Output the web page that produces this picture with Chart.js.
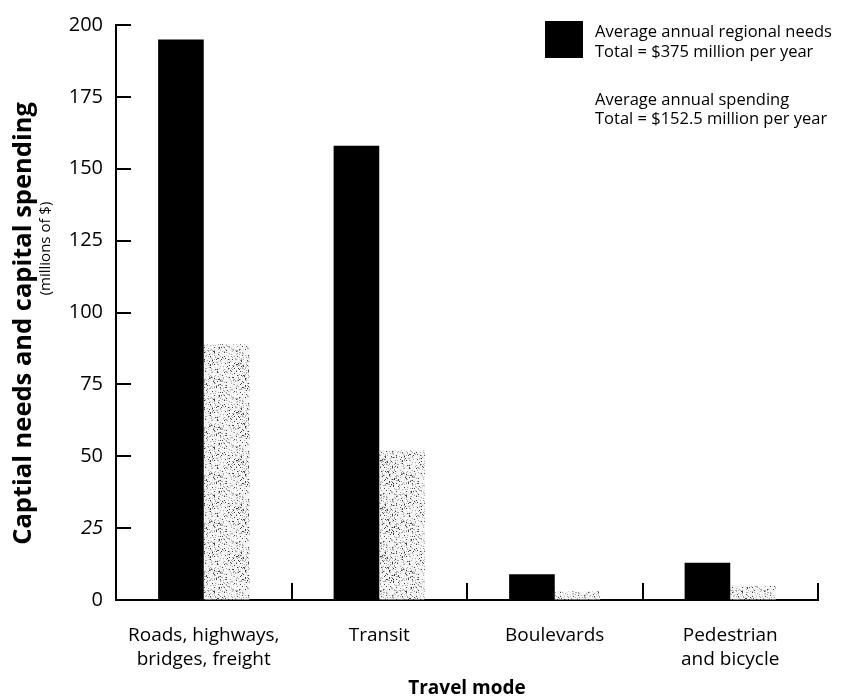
<!DOCTYPE html>
<html>
<head>
<meta charset="utf-8">
<script src="https://cdn.jsdelivr.net/npm/chart.js@4.4.1/dist/chart.umd.min.js"></script>
<style>
  html, body { margin: 0; padding: 0; background: #fff; }
  #wrap { width: 845px; height: 699px; }
</style>
</head>
<body>
<div id="wrap"><canvas id="chart" width="845" height="699"></canvas></div>
<script>
const categories = [['Roads, highways,', 'bridges, freight'], 'Transit', 'Boulevards', ['Pedestrian', 'and bicycle']];
const needs = [195, 158, 9, 13];
const spending = [89, 52, 3, 5];
const yTicks = [0, 25, 50, 75, 100, 125, 150, 175, 200];
const needsLabel = ['Average annual regional needs', 'Total = $375 million per year'];
const spendingLabel = ['Average annual spending', 'Total = $152.5 million per year'];
const yTitle = 'Captial needs and capital spending';
const ySubtitle = '(millions of $)';
const xTitle = 'Travel mode';

const FONT = "'Open Sans', 'Noto Sans', sans-serif";

// stippled grey fill for the spending bars
function makeStipple() {
    const c = document.createElement('canvas');
    c.width = 48;
    c.height = 48;
    const g = c.getContext('2d');
    g.fillStyle = '#f2f2f2';
    g.fillRect(0, 0, 48, 48);
    for (let i = 0; i < 48; i++) {
        for (let j = 0; j < 48; j++) {
            const h = ((i * 73856093) ^ (j * 19349663) ^ (i * j * 83492791)) >>> 0;
            const r = h % 100;
            if (r < 6) { g.fillStyle = '#444'; g.fillRect(i, j, 1, 1); }
            else if (r < 20) { g.fillStyle = '#aaa'; g.fillRect(i, j, 1, 1); }
            else if (r < 40) { g.fillStyle = '#fff'; g.fillRect(i, j, 1, 1); }
        }
    }
    return g.createPattern(c, 'repeat');
}

const decorations = {
    id: 'decorations',
    afterDraw(chart) {
        const { ctx, chartArea, scales: { x, y } } = chart;
        ctx.save();
        ctx.strokeStyle = '#000';
        ctx.lineWidth = 2;

        // y ticks point into the plot
        yTicks.forEach(v => {
            if (v === 0) return;
            const py = Math.round(y.getPixelForValue(v));
            ctx.beginPath();
            ctx.moveTo(chartArea.left, py);
            ctx.lineTo(chartArea.left + 15, py);
            ctx.stroke();
        });

        // category separators on the x axis
        for (let i = 1; i <= categories.length; i++) {
            const px = Math.round(x.getPixelForValue(i - 0.5));
            ctx.beginPath();
            ctx.moveTo(px, chartArea.bottom);
            ctx.lineTo(px, chartArea.bottom - 17);
            ctx.stroke();
        }

        // y axis title + subtitle
        const midY = (chartArea.top + chartArea.bottom) / 2;
        ctx.fillStyle = '#000';
        ctx.textAlign = 'center';
        ctx.textBaseline = 'middle';
        ctx.save();
        ctx.translate(24, midY + 11);
        ctx.rotate(-Math.PI / 2);
        ctx.font = `bold 25.5px ${FONT}`;
        ctx.fillText(yTitle, 0, 0);
        ctx.restore();
        ctx.save();
        ctx.translate(46, midY - 64);
        ctx.rotate(-Math.PI / 2);
        ctx.font = `15px ${FONT}`;
        ctx.fillText(ySubtitle, 0, 0);
        ctx.restore();

        // legend
        ctx.fillStyle = chart.data.datasets[0].backgroundColor;
        ctx.fillRect(545, 21, 38, 37);
        ctx.fillStyle = '#000';
        ctx.textAlign = 'left';
        ctx.textBaseline = 'alphabetic';
        ctx.font = `16.5px ${FONT}`;
        needsLabel.forEach((t, i) => ctx.fillText(t, 595, 37 + i * 20));
        spendingLabel.forEach((t, i) => ctx.fillText(t, 595, 105 + i * 19));

        ctx.restore();
    }
};

const ctx = document.getElementById('chart').getContext('2d');
new Chart(ctx, {
    type: 'bar',
    data: {
        labels: categories,
        datasets: [
            {
                label: needsLabel.join(' '),
                data: needs,
                backgroundColor: '#000',
                borderWidth: 0,
                categoryPercentage: 0.52,
                barPercentage: 1.0
            },
            {
                label: spendingLabel.join(' '),
                data: spending,
                backgroundColor: makeStipple(),
                borderWidth: 0,
                categoryPercentage: 0.52,
                barPercentage: 1.0
            }
        ]
    },
    options: {
        responsive: false,
        animation: false,
        layout: { padding: { left: 0, right: 27, top: 21, bottom: 0 } },
        plugins: {
            legend: { display: false },
            tooltip: { enabled: false }
        },
        scales: {
            x: {
                afterFit: s => { s.height = 99; },
                grid: { drawOnChartArea: false, drawTicks: false },
                border: { display: true, color: '#000', width: 2 },
                ticks: {
                    color: '#000',
                    padding: 24,
                    font: { family: FONT, size: 19, lineHeight: 1.26 }
                },
                title: {
                    display: true,
                    text: xTitle,
                    color: '#000',
                    padding: { top: 0, bottom: -1 },
                    font: { family: FONT, size: 19, weight: 'bold' }
                }
            },
            y: {
                min: 0,
                max: 200,
                afterFit: s => { s.width = 116; },
                afterBuildTicks: s => { s.ticks = yTicks.map(v => ({ value: v })); },
                grid: { drawOnChartArea: false, drawTicks: false },
                border: { display: true, color: '#000', width: 2 },
                ticks: {
                    color: '#000',
                    padding: 13,
                    font: ctx => ({ family: FONT, size: 20, style: ctx.tick && ctx.tick.value === 25 ? 'italic' : 'normal' })
                }
            }
        }
    },
    plugins: [decorations]
});
</script>
</body>
</html>
